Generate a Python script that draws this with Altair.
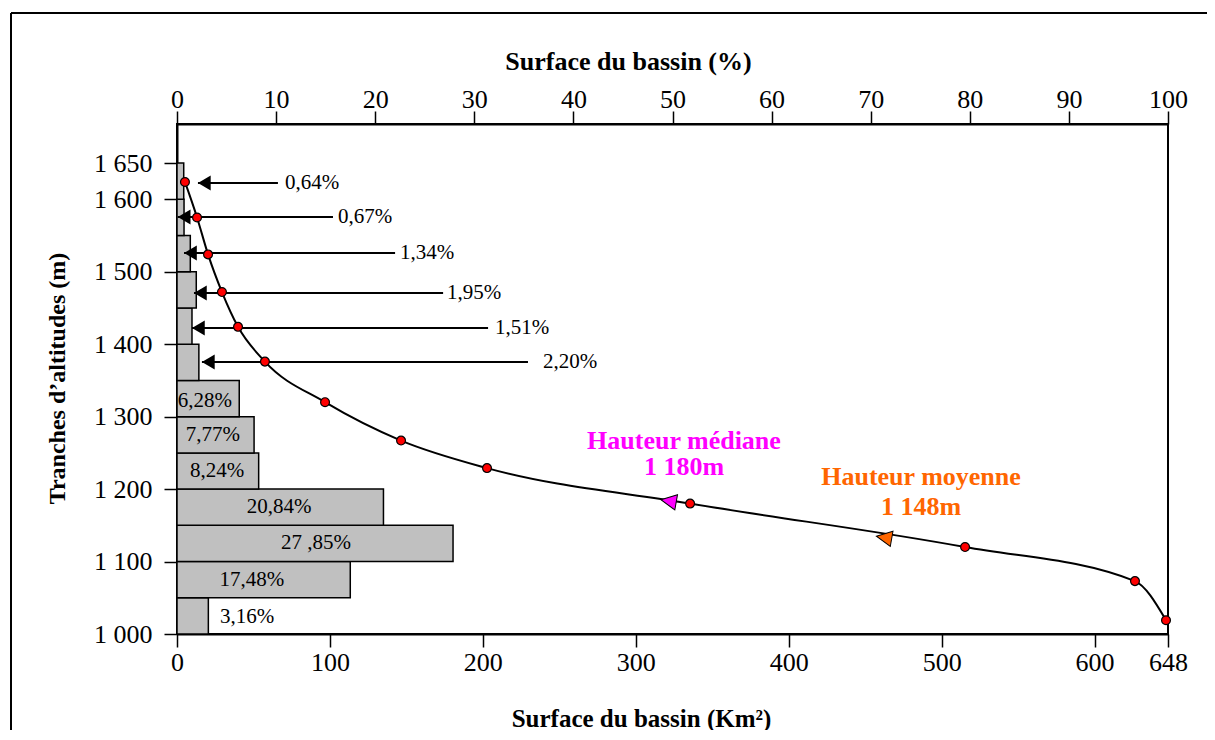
import altair as alt
import pandas as pd

# ---------------- data ----------------
band_lo = [1000, 1050, 1100, 1150, 1200, 1250, 1300, 1350, 1400, 1450, 1500, 1550, 1600]
band_hi = [1050, 1100, 1150, 1200, 1250, 1300, 1350, 1400, 1450, 1500, 1550, 1600, 1650]
band_area_km2 = [20.5, 113.3, 180.5, 135.0, 53.4, 50.4, 40.7, 14.3, 9.8, 12.6, 8.7, 4.6, 4.4]

# labels written inside / next to the wide bars
in_labels = ["3,16%", "17,48%", "27 ,85%", "20,84%", "8,24%", "7,77%", "6,28%"]
in_label_x = [45.8, 49.0, 90.9, 66.7, 26.2, 23.5, 18.3]
in_label_y = [1023, 1075, 1125, 1175, 1225, 1275, 1322]

# arrow call-outs for the narrow bars
arrow_labels = ["2,20%", "1,51%", "1,95%", "1,34%", "0,67%", "0,64%"]
arrow_y = [1375.5, 1422.4, 1470.7, 1526.0, 1575.6, 1622.6]
arrow_tip_x = [16.3, 9.8, 11.1, 4.6, 0.5, 13.7]
arrow_end_x = [229.5, 203.4, 174.0, 142.6, 102.0, 66.0]
arrow_label_x = [239.3, 208.0, 176.6, 145.8, 105.3, 70.6]

# hypsometric curve points (cumulative area, altitude)
curve_x = [5.2, 13.1, 20.3, 29.4, 39.9, 57.5, 96.8, 146.5, 202.7, 335.5, 515.3, 626.4, 646.7]
curve_y = [1624, 1575, 1524, 1472, 1424, 1376, 1320, 1267, 1229, 1180, 1120, 1073, 1019]

# median / mean markers
mark_names = ["Hauteur médiane", "Hauteur moyenne"]
mark_x = [321.4, 462.3]
mark_y = [1183.6, 1133.2]
mark_colors = ["#FF00FF", "#FF6600"]
mark_line1 = ["Hauteur médiane", "Hauteur moyenne"]
mark_line2 = ["1 180m", "1 148m"]
mark_text_x = [331.5, 486.5]
mark_text_y1 = [1267.0, 1216.7]
mark_text_y2 = [1230.0, 1175.0]

y_ticks = [1000, 1100, 1200, 1300, 1400, 1500, 1600, 1650]
x_ticks = [0, 100, 200, 300, 400, 500, 600, 648]
pct_ticks = [0, 10, 20, 30, 40, 50, 60, 70, 80, 90, 100]

FONT = "Liberation Serif"
X_DOMAIN = [0, 648]
Y_DOMAIN = [1000, 1704]

bars = pd.DataFrame({"lo": band_lo, "hi": band_hi, "area": band_area_km2})
inlab = pd.DataFrame({"t": in_labels, "x": in_label_x, "y": in_label_y})
arr = pd.DataFrame({"t": arrow_labels, "y": arrow_y, "tip": arrow_tip_x,
                    "end": arrow_end_x, "lx": arrow_label_x})
curve = pd.DataFrame({"x": curve_x, "y": curve_y})
marks = pd.DataFrame({"name": mark_names, "x": mark_x, "y": mark_y, "c": mark_colors,
                      "l1": mark_line1, "l2": mark_line2, "tx": mark_text_x,
                      "ty1": mark_text_y1, "ty2": mark_text_y2})
pct = pd.DataFrame({"p": pct_ticks})

xs = alt.Scale(domain=X_DOMAIN, nice=False, zero=False)
ys = alt.Scale(domain=Y_DOMAIN, nice=False, zero=False)

AX_X = alt.Axis(
    values=x_ticks, format="d", title="Surface du bassin (Km²)",
    titleFontSize=25, titleFontWeight="bold", titleX=464, titleY=84,
    titleBaseline="middle", titleAlign="center",
    labelPadding=2, labelFlush=False)
AX_Y = alt.Axis(
    values=y_ticks, labelExpr="replace(format(datum.value, ','), ',', ' ')",
    title="Tranches d’altitudes (m)", titleFontSize=24, titleFontWeight="bold",
    titleX=-120, titleY=254, titleAngle=-90, titleBaseline="middle",
    titleAlign="center", labelPadding=12)


def X(f):
    return alt.X(f, scale=xs, axis=AX_X)


def Y(f):
    return alt.Y(f, scale=ys, axis=AX_Y)


bar_layer = alt.Chart(bars).mark_rect(fill="#C0C0C0", stroke="black", strokeWidth=1.5).encode(
    x=X("area:Q"), x2=alt.X2(datum=0), y=Y("lo:Q"), y2="hi:Q")

inlab_layer = alt.Chart(inlab).mark_text(font=FONT, fontSize=21, color="black",
                                          align="center", baseline="middle").encode(
    x=X("x:Q"), y=Y("y:Q"), text="t:N")

arrow_rules = alt.Chart(arr).mark_rule(color="black", strokeWidth=2).encode(
    x=X("tip:Q"), x2="end:Q", y=Y("y:Q"))

arrow_heads = alt.Chart(arr).mark_point(shape="M0,0L1.7,-1L1.7,1Z", filled=True, color="black",
                                        opacity=1, size=225).encode(
    x=X("tip:Q"), y=Y("y:Q"))

arrow_text = alt.Chart(arr).mark_text(font=FONT, fontSize=21, color="black",
                                      align="left", baseline="middle").encode(
    x=X("lx:Q"), y=Y("y:Q"), text="t:N")

curve_line = alt.Chart(curve).mark_line(color="black", strokeWidth=2, interpolate="monotone").encode(
    x=X("x:Q"), y=Y("y:Q"))

curve_dots = alt.Chart(curve).mark_point(shape="circle", filled=True, fill="#FF0000", stroke="black",
                                         strokeWidth=1.2, opacity=1, size=78).encode(
    x=X("x:Q"), y=Y("y:Q"))

tri = alt.Chart(marks).mark_point(shape="M-1,0L1,-1L1,1Z", filled=True, stroke="black",
                                  strokeWidth=1, opacity=1, size=240, angle=10).encode(
    x=X("x:Q"), y=Y("y:Q"), fill=alt.Fill("c:N", scale=None))

txt1 = alt.Chart(marks).mark_text(font=FONT, fontSize=26, fontWeight="bold",
                                  align="center", baseline="middle").encode(
    x=X("tx:Q"), y=Y("ty1:Q"), text="l1:N", color=alt.Color("c:N", scale=None))
txt2 = alt.Chart(marks).mark_text(font=FONT, fontSize=26, fontWeight="bold",
                                  align="center", baseline="middle").encode(
    x=X("tx:Q"), y=Y("ty2:Q"), text="l2:N", color=alt.Color("c:N", scale=None))

frame_left = alt.Chart(pct).mark_rule(color="black", strokeWidth=2).encode(
    x=alt.value(-166), y=alt.value(-111), y2=alt.value(640))
frame_top = alt.Chart(pct).mark_rule(color="black", strokeWidth=2).encode(
    x=alt.value(-166), x2=alt.value(1100), y=alt.value(-111))

main = alt.layer(bar_layer, inlab_layer, arrow_rules, arrow_heads, arrow_text,
                 curve_line, curve_dots, tri, txt1, txt2, frame_left, frame_top)

top_axis = alt.Chart(pct).mark_point(opacity=0).encode(
    x=alt.X("p:Q", scale=alt.Scale(domain=[0, 100], nice=False, zero=False),
            axis=alt.Axis(orient="top", values=pct_ticks, format="d",
                          title="Surface du bassin (%)", titleFontSize=26,
                          titleFontWeight="bold", titleX=451, titleY=-63,
                          titleBaseline="middle", titleAlign="center",
                          labelBaseline="alphabetic", labelPadding=4, labelFlush=False)),
    y=alt.value(5),
)

chart = alt.layer(main, top_axis).resolve_scale(x="independent").properties(
    width=991, height=510,
    padding={"left": 169, "top": 116, "right": 39, "bottom": 96},
    autosize=alt.AutoSizeParams(type="none"),
).configure(font=FONT).configure_view(
    stroke="black", strokeWidth=2
).configure_axis(
    labelFont=FONT, titleFont=FONT, labelFontSize=26, labelColor="black", titleColor="black",
    tickColor="black", tickSize=13, tickWidth=1.5, domainColor="black", domainWidth=2,
    grid=False,
)

chart.save("out.html", embed_options={"renderer": "svg", "actions": False})
